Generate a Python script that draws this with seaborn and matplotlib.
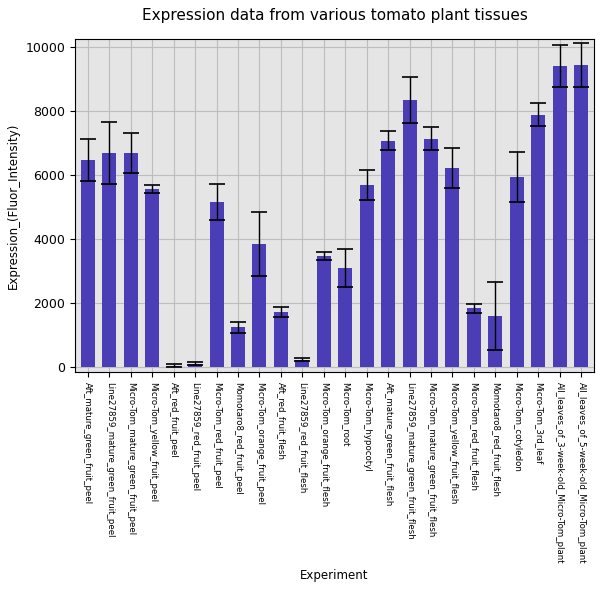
import numpy as np
import matplotlib
matplotlib.use('Agg')
import matplotlib.pyplot as plt
import seaborn as sns
import pandas as pd

tissues = [
    'Aft_mature_green_fruit_peel', 'Line27859_mature_green_fruit_peel',
    'Micro-Tom_mature_green_fruit_peel', 'Micro-Tom_yellow_fruit_peel',
    'Aft_red_fruit_peel', 'Line27859_red_fruit_peel', 'Micro-Tom_red_fruit_peel',
    'Momotaro8_red_fruit_peel', 'Micro-Tom_orange_fruit_peel', 'Aft_red_fruit_flesh',
    'Line27859_red_fruit_flesh', 'Micro-Tom_orange_fruit_flesh', 'Micro-Tom_root',
    'Micro-Tom_hypocotyl', 'Aft_mature_green_fruit_flesh',
    'Line27859_mature_green_fruit_flesh', 'Micro-Tom_mature_green_fruit_flesh',
    'Micro-Tom_yellow_fruit_flesh', 'Micro-Tom_red_fruit_flesh',
    'Momotaro8_red_fruit_flesh', 'Micro-Tom_cotyledon', 'Micro-Tom_3rd_leaf',
    'All_leaves_of_3-week-old_Micro-Tom_plant', 'All_leaves_of_5-week-old_Micro-Tom_plant',
]
expression = [6470, 6700, 6690, 5570, 50, 110, 5150, 1250, 3860, 1720,
              240, 3470, 3090, 5680, 7080, 8350, 7130, 6220, 1840, 1590,
              5950, 7880, 9410, 9440]
errors = [670, 970, 630, 130, 40, 40, 560, 170, 1000, 150,
          60, 130, 600, 470, 310, 720, 360, 620, 140, 1060,
          780, 360, 650, 700]

df = pd.DataFrame({'Experiment': tissues, 'Expression': expression, 'err': errors})

fig, ax = plt.subplots(figsize=(6, 6), dpi=100)
ax.set_facecolor('#e5e5e5')
sns.barplot(data=df, x='Experiment', y='Expression', color='#4a3db5',
            saturation=1, width=0.65, ax=ax, zorder=2)
ax.errorbar(np.arange(len(tissues)), df['Expression'], yerr=df['err'],
            fmt='none', ecolor='black', elinewidth=1, capsize=6, capthick=1.2, zorder=3)
ax.grid(True, color='#bdbdbd', linewidth=0.8, zorder=0)
ax.set_axisbelow(True)
ax.set_ylim(-150, 10250)
ax.set_xlim(-0.6, len(tissues) - 0.4)
ax.set_yticks([0, 2000, 4000, 6000, 8000, 10000])
ax.tick_params(axis='x', labelrotation=-90, labelsize=6.2)
ax.tick_params(axis='y', labelsize=9)
ax.set_ylabel('Expression_(Fluor_Intensity)', fontsize=8.5)
ax.set_xlabel('Experiment', fontsize=8.5)
ax.set_title('Expression data from various tomato plant tissues', fontsize=11, pad=14)
fig.subplots_adjust(left=0.125, right=0.99, top=0.935, bottom=0.38)
fig.savefig('out.png', dpi=100)
